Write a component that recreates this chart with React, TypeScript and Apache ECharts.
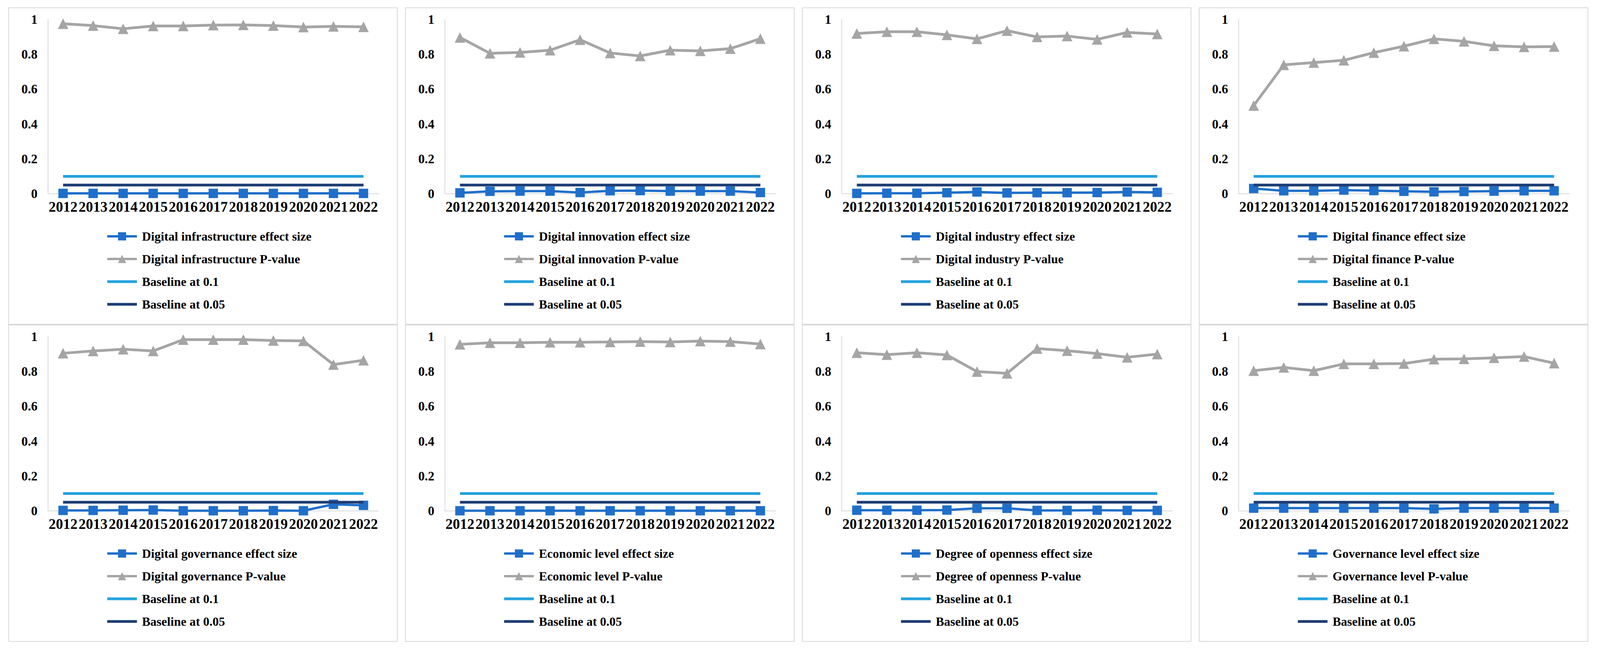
import React, { useEffect, useRef } from "react";
import * as echarts from "echarts";

const years = ["2012", "2013", "2014", "2015", "2016", "2017", "2018", "2019", "2020", "2021", "2022"];

const panelNames = [
  "Digital infrastructure",
  "Digital innovation",
  "Digital industry",
  "Digital finance",
  "Digital governance",
  "Economic level",
  "Degree of openness",
  "Governance level",
];

const infraEffect = [0.002, 0.002, 0.002, 0.002, 0.002, 0.002, 0.002, 0.002, 0.002, 0.002, 0.002];
const infraP = [0.976, 0.965, 0.947, 0.963, 0.963, 0.968, 0.969, 0.965, 0.957, 0.961, 0.958];

const innovEffect = [0.005, 0.014, 0.015, 0.015, 0.007, 0.017, 0.018, 0.015, 0.015, 0.015, 0.007];
const innovP = [0.897, 0.806, 0.811, 0.824, 0.884, 0.808, 0.791, 0.824, 0.82, 0.833, 0.89];

const industryEffect = [0.002, 0.003, 0.003, 0.006, 0.01, 0.005, 0.006, 0.006, 0.007, 0.01, 0.008];
const industryP = [0.92, 0.93, 0.93, 0.912, 0.889, 0.936, 0.9, 0.905, 0.886, 0.926, 0.917];

const financeEffect = [0.03, 0.017, 0.017, 0.021, 0.018, 0.014, 0.011, 0.013, 0.015, 0.017, 0.017];
const financeP = [0.506, 0.74, 0.753, 0.766, 0.81, 0.847, 0.889, 0.875, 0.849, 0.843, 0.845];

const governanceEffect = [0.003, 0.003, 0.004, 0.005, 0.001, 0.001, 0.001, 0.002, 0.001, 0.038, 0.032];
const governanceP = [0.905, 0.918, 0.928, 0.918, 0.983, 0.983, 0.983, 0.978, 0.976, 0.84, 0.865];

const economicEffect = [0.001, 0.001, 0.001, 0.001, 0.001, 0.001, 0.001, 0.001, 0.001, 0.001, 0.001];
const economicP = [0.956, 0.965, 0.965, 0.968, 0.968, 0.97, 0.972, 0.97, 0.975, 0.972, 0.958];

const opennessEffect = [0.004, 0.004, 0.004, 0.005, 0.015, 0.015, 0.003, 0.003, 0.004, 0.003, 0.003];
const opennessP = [0.908, 0.897, 0.908, 0.895, 0.8, 0.79, 0.932, 0.92, 0.903, 0.882, 0.9];

const govLevelEffect = [0.016, 0.016, 0.016, 0.016, 0.016, 0.016, 0.012, 0.016, 0.016, 0.016, 0.016];
const govLevelP = [0.805, 0.824, 0.805, 0.844, 0.844, 0.846, 0.871, 0.873, 0.879, 0.886, 0.848];

const baseline01 = [0.1, 0.1, 0.1, 0.1, 0.1, 0.1, 0.1, 0.1, 0.1, 0.1, 0.1];
const baseline005 = [0.05, 0.05, 0.05, 0.05, 0.05, 0.05, 0.05, 0.05, 0.05, 0.05, 0.05];

const effects = [infraEffect, innovEffect, industryEffect, financeEffect, governanceEffect, economicEffect, opennessEffect, govLevelEffect];
const pValues = [infraP, innovP, industryP, financeP, governanceP, economicP, opennessP, govLevelP];

const W = 4175;
const H = 1705;

const FONT = "'Liberation Serif', 'Times New Roman', serif";
const C_EFFECT = "#1F6FCA";
const C_P = "#A5A5A5";
const C_B01 = "#25A2DE";
const C_B005 = "#1E3D73";

const PANEL_LEFT0 = 22;
const PITCH_X = 1016;
const PANEL_W = 995;
const ROW_TOP0 = 20;
const PITCH_Y = 812;
const PANEL_H = 810;

export default function App() {
  const ref = useRef<HTMLDivElement>(null);

  useEffect(() => {
    if (!ref.current) return;
    const chart = echarts.init(ref.current, undefined, { renderer: "svg" });

    const grids: any[] = [];
    const xAxes: any[] = [];
    const yAxes: any[] = [];
    const legends: any[] = [];
    const series: any[] = [];
    const graphics: any[] = [];

    panelNames.forEach((name, i) => {
      const col = i % 4;
      const row = Math.floor(i / 4);
      const px = PANEL_LEFT0 + col * PITCH_X;
      const py = ROW_TOP0 + row * PITCH_Y;

      graphics.push({
        type: "rect",
        shape: { x: px, y: py, width: PANEL_W, height: PANEL_H },
        style: { fill: "#fff", stroke: "#D9D9D9", lineWidth: 2 },
        z: -10,
      });

      grids.push({ left: px + 101, top: py + 30, width: 846, height: 446 });

      xAxes.push({
        type: "category",
        gridIndex: i,
        data: years,
        boundaryGap: true,
        axisLine: { show: true, lineStyle: { color: "#D9D9D9", width: 2 } },
        axisTick: { show: false },
        splitLine: { show: false },
        axisLabel: {
          interval: 0,
          margin: 15,
          color: "#000",
          fontFamily: FONT,
          fontWeight: "bold",
          fontSize: 37,
        },
      });

      yAxes.push({
        type: "value",
        gridIndex: i,
        min: 0,
        max: 1,
        interval: 0.2,
        axisLine: { show: true, lineStyle: { color: "#D9D9D9", width: 2 } },
        axisTick: { show: false },
        splitLine: { show: false },
        axisLabel: {
          margin: 27,
          color: "#000",
          fontFamily: FONT,
          fontWeight: "bold",
          fontSize: 33,
        },
      });

      const effName = name + " effect size";
      const pName = name + " P-value";
      const hidden = { color: "rgba(0,0,0,0)", borderWidth: 0 };

      legends.push({
        orient: "vertical",
        left: px + 244,
        top: py + 562,
        itemWidth: 76,
        itemHeight: 26,
        itemGap: 22,
        selectedMode: false,
        lineStyle: { width: 6 },
        data: [
          { name: effName, lineStyle: { width: 6 } },
          { name: pName, lineStyle: { width: 6 } },
          { name: "Baseline at 0.1", itemStyle: hidden, lineStyle: { width: 7 } },
          { name: "Baseline at 0.05", itemStyle: hidden, lineStyle: { width: 7 } },
        ],
        textStyle: {
          color: "#000",
          fontFamily: FONT,
          fontWeight: "bold",
          fontSize: 32,
          lineHeight: 36,
          padding: [0, 0, 0, 8],
        },
      });

      series.push({
        name: effName,
        type: "line",
        xAxisIndex: i,
        yAxisIndex: i,
        data: effects[i],
        symbol: "rect",
        symbolSize: 24,
        lineStyle: { color: C_EFFECT, width: 6 },
        itemStyle: { color: C_EFFECT },
        z: 3,
      });
      series.push({
        name: pName,
        type: "line",
        xAxisIndex: i,
        yAxisIndex: i,
        data: pValues[i],
        symbol: "triangle",
        symbolSize: 27,
        lineStyle: { color: C_P, width: 7 },
        itemStyle: { color: C_P },
        z: 3,
      });
      series.push({
        name: "Baseline at 0.1",
        type: "line",
        xAxisIndex: i,
        yAxisIndex: i,
        data: baseline01,
        symbol: "none",
        lineStyle: { color: C_B01, width: 7 },
        itemStyle: { color: C_B01 },
        z: 4,
      });
      series.push({
        name: "Baseline at 0.05",
        type: "line",
        xAxisIndex: i,
        yAxisIndex: i,
        data: baseline005,
        symbol: "none",
        lineStyle: { color: C_B005, width: 7 },
        itemStyle: { color: C_B005 },
        z: 4,
      });
    });

    chart.setOption({
      animation: false,
      backgroundColor: "#fff",
      textStyle: { fontFamily: FONT },
      graphic: graphics,
      grid: grids,
      xAxis: xAxes,
      yAxis: yAxes,
      legend: legends,
      series,
    });

    return () => chart.dispose();
  }, []);

  return (
    <div
      ref={ref}
      style={{ position: "absolute", left: 0, top: 0, width: W, height: H, background: "#fff" }}
    />
  );
}
